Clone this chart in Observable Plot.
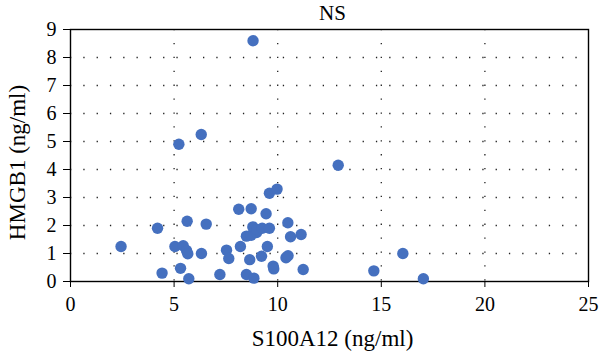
<!DOCTYPE html>
<html>
<head>
<meta charset="utf-8">
<script src="https://cdn.jsdelivr.net/npm/d3@7"></script>
<script src="https://cdn.jsdelivr.net/npm/@observablehq/plot@0.6"></script>
<style>
  html, body { margin: 0; padding: 0; background: #fff; }
</style>
</head>
<body>
<div id="chart"></div>
<script>
const title = "NS";
const xLabel = "S100A12 (ng/ml)";
const yLabel = "HMGB1 (ng/ml)";
const xTicks = [0, 5, 10, 15, 20, 25];
const yTicks = [0, 1, 2, 3, 4, 5, 6, 7, 8, 9];
const s100a12 = [
  2.44, 4.2, 4.42, 5.04, 5.23, 5.31, 5.44, 5.6, 5.63, 5.66, 5.71,
  6.31, 6.32, 6.55, 7.21, 7.53, 7.64, 8.12, 8.2, 8.49, 8.49, 8.65,
  8.72, 8.72, 8.8, 8.81, 8.85, 8.98, 9.0, 9.22, 9.25, 9.44, 9.5,
  9.6, 9.6, 9.78, 9.81, 9.97, 10.4, 10.49, 10.5, 10.62, 11.13, 11.23,
  12.92, 14.64, 16.04, 17.03
];
const hmgb1 = [
  1.25, 1.9, 0.3, 1.25, 4.9, 0.47, 1.28, 1.11, 2.15, 0.99, 0.1,
  5.25, 1.0, 2.05, 0.25, 1.12, 0.82, 2.58, 1.25, 1.62, 0.25, 0.78,
  2.6, 1.65, 1.95, 8.6, 0.12, 1.75, 1.85, 0.9, 1.9, 2.42, 1.25,
  3.15, 1.9, 0.55, 0.45, 3.3, 0.85, 2.1, 0.92, 1.6, 1.68, 0.43,
  4.15, 0.38, 1.0, 0.1
];
const data = s100a12.map((x, i) => ({x, y: hmgb1[i]}));

const chart = Plot.plot({
  width: 600,
  height: 355,
  marginLeft: 70,
  marginRight: 12,
  marginTop: 29,
  marginBottom: 74,
  style: {fontFamily: "'Liberation Serif', serif", fontSize: "20px", color: "#000", background: "#fff"},
  x: {domain: [0, 25]},
  y: {domain: [0, 9]},
  marks: [
    Plot.gridY([1, 2, 3, 4, 5, 6, 7, 8], {stroke: "#222", strokeOpacity: 1, strokeWidth: 1.3, strokeDasharray: "1.3,12"}),
    Plot.gridX([5, 10, 15, 20], {stroke: "#222", strokeOpacity: 1, strokeWidth: 1.3, strokeDasharray: "1.3,12.6"}),
    Plot.frame({stroke: "#000", strokeWidth: 1.4}),
    Plot.axisX(xTicks, {tickSize: 6, tickPadding: 9, fontSize: 20, label: null}),
    Plot.axisY(yTicks, {tickSize: 7, tickPadding: 7, fontSize: 20, label: null}),
    Plot.dot(data, {x: "x", y: "y", r: 5.7, fill: "#4570bf", stroke: "none"}),
    Plot.text([title], {frameAnchor: "top", textAnchor: "middle", lineAnchor: "bottom", dx: 3, dy: -10, fontSize: 21, fill: "#000"}),
    Plot.text([xLabel], {frameAnchor: "bottom", textAnchor: "middle", lineAnchor: "bottom", dx: 3, dy: 64, fontSize: 23, fill: "#000"}),
    Plot.text([yLabel], {frameAnchor: "left", textAnchor: "middle", lineAnchor: "bottom", rotate: -90, dx: -46, dy: 7, fontSize: 23, fill: "#000"})
  ]
});
document.getElementById("chart").appendChild(chart);
</script>
</body>
</html>
